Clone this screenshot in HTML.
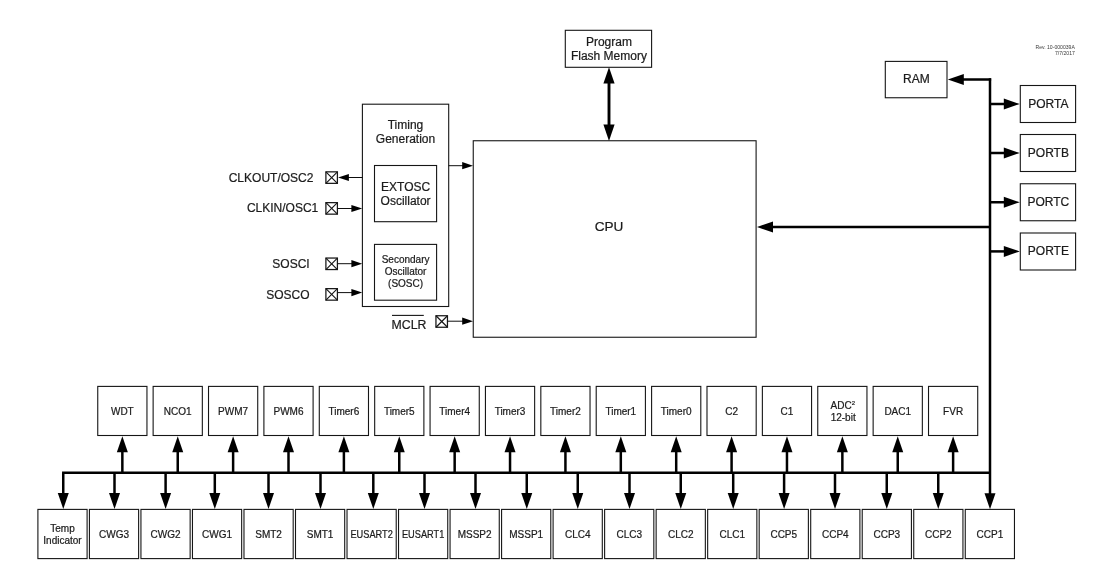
<!DOCTYPE html>
<html lang="en">
<head>
<meta charset="utf-8">
<title>Block Diagram</title>
<style>
html,body{margin:0;padding:0;background:#fff;}
body{width:1101px;height:581px;overflow:hidden;}
svg{display:block;will-change:transform;}
svg text{font-family:"Liberation Sans",Arial,Helvetica,sans-serif;fill:#1c1c1c;stroke:#1c1c1c;stroke-width:0.22px;}
</style>
</head>
<body>
<svg width="1101" height="581" viewBox="0 0 1101 581">
<rect x="0" y="0" width="1101" height="581" fill="#ffffff"/>
<rect x="565.30" y="30.30" width="86.30" height="37.00" fill="none" stroke="#161616" stroke-width="1.1"/>
<text x="608.90" y="45.50" font-size="12" text-anchor="middle">Program</text>
<text x="608.90" y="59.50" font-size="12" text-anchor="middle">Flash Memory</text>
<line x1="609.00" y1="80.00" x2="609.00" y2="128.00" stroke="#000" stroke-width="2.9"/>
<polygon points="609.00,67.20 603.40,83.50 614.60,83.50" fill="#000"/>
<polygon points="609.00,140.90 603.40,124.60 614.60,124.60" fill="#000"/>
<rect x="473.25" y="140.75" width="282.85" height="196.50" fill="none" stroke="#161616" stroke-width="1.1"/>
<text x="609.10" y="231.20" font-size="13.6" text-anchor="middle">CPU</text>
<rect x="362.40" y="104.20" width="86.30" height="202.30" fill="none" stroke="#161616" stroke-width="1.1"/>
<text x="405.50" y="129.20" font-size="12" text-anchor="middle">Timing</text>
<text x="405.50" y="143.00" font-size="12" text-anchor="middle">Generation</text>
<rect x="374.50" y="165.50" width="62.10" height="56.20" fill="none" stroke="#161616" stroke-width="1.1"/>
<text x="405.60" y="190.60" font-size="12" text-anchor="middle">EXTOSC</text>
<text x="405.60" y="204.50" font-size="12" text-anchor="middle">Oscillator</text>
<rect x="374.50" y="244.40" width="62.10" height="55.80" fill="none" stroke="#161616" stroke-width="1.1"/>
<text x="405.60" y="262.70" font-size="10" text-anchor="middle">Secondary</text>
<text x="405.60" y="274.60" font-size="10" text-anchor="middle">Oscillator</text>
<text x="405.60" y="286.50" font-size="10" text-anchor="middle">(SOSC)</text>
<line x1="448.70" y1="165.70" x2="464.00" y2="165.70" stroke="#000" stroke-width="0.95"/>
<polygon points="473.00,165.70 462.20,162.10 462.20,169.30" fill="#000"/>
<rect x="325.90" y="171.85" width="11.50" height="11.50" fill="none" stroke="#161616" stroke-width="1.25"/>
<line x1="325.90" y1="171.85" x2="337.40" y2="183.35" stroke="#161616" stroke-width="1.15"/>
<line x1="325.90" y1="183.35" x2="337.40" y2="171.85" stroke="#161616" stroke-width="1.15"/>
<text x="313.40" y="181.90" font-size="12" text-anchor="end">CLKOUT/OSC2</text>
<line x1="347.00" y1="177.50" x2="362.40" y2="177.50" stroke="#000" stroke-width="0.95"/>
<polygon points="338.10,177.50 348.90,173.90 348.90,181.10" fill="#000"/>
<rect x="325.90" y="202.65" width="11.50" height="11.50" fill="none" stroke="#161616" stroke-width="1.25"/>
<line x1="325.90" y1="202.65" x2="337.40" y2="214.15" stroke="#161616" stroke-width="1.15"/>
<line x1="325.90" y1="214.15" x2="337.40" y2="202.65" stroke="#161616" stroke-width="1.15"/>
<text x="318.30" y="212.30" font-size="12" text-anchor="end">CLKIN/OSC1</text>
<line x1="337.80" y1="208.50" x2="353.00" y2="208.50" stroke="#000" stroke-width="0.95"/>
<polygon points="362.20,208.50 351.40,204.90 351.40,212.10" fill="#000"/>
<rect x="325.90" y="258.05" width="11.50" height="11.50" fill="none" stroke="#161616" stroke-width="1.25"/>
<line x1="325.90" y1="258.05" x2="337.40" y2="269.55" stroke="#161616" stroke-width="1.15"/>
<line x1="325.90" y1="269.55" x2="337.40" y2="258.05" stroke="#161616" stroke-width="1.15"/>
<text x="309.70" y="267.90" font-size="12" text-anchor="end">SOSCI</text>
<line x1="337.80" y1="263.70" x2="353.00" y2="263.70" stroke="#000" stroke-width="0.95"/>
<polygon points="362.20,263.70 351.40,260.10 351.40,267.30" fill="#000"/>
<rect x="325.90" y="288.65" width="11.50" height="11.50" fill="none" stroke="#161616" stroke-width="1.25"/>
<line x1="325.90" y1="288.65" x2="337.40" y2="300.15" stroke="#161616" stroke-width="1.15"/>
<line x1="325.90" y1="300.15" x2="337.40" y2="288.65" stroke="#161616" stroke-width="1.15"/>
<text x="309.60" y="298.60" font-size="12" text-anchor="end">SOSCO</text>
<line x1="337.80" y1="292.60" x2="353.00" y2="292.60" stroke="#000" stroke-width="0.95"/>
<polygon points="362.20,292.60 351.40,289.00 351.40,296.20" fill="#000"/>
<rect x="435.95" y="315.75" width="11.50" height="11.50" fill="none" stroke="#161616" stroke-width="1.25"/>
<line x1="435.95" y1="315.75" x2="447.45" y2="327.25" stroke="#161616" stroke-width="1.15"/>
<line x1="435.95" y1="327.25" x2="447.45" y2="315.75" stroke="#161616" stroke-width="1.15"/>
<text x="409.00" y="328.80" font-size="12.3" text-anchor="middle">MCLR</text>
<line x1="392.00" y1="315.40" x2="423.80" y2="315.40" stroke="#161616" stroke-width="1.1"/>
<line x1="447.90" y1="321.20" x2="464.00" y2="321.20" stroke="#000" stroke-width="0.95"/>
<polygon points="473.00,321.20 462.20,317.60 462.20,324.80" fill="#000"/>
<rect x="885.30" y="61.40" width="61.70" height="36.35" fill="none" stroke="#161616" stroke-width="1.1"/>
<text x="916.40" y="83.20" font-size="12" text-anchor="middle">RAM</text>
<line x1="990.00" y1="78.35" x2="990.00" y2="496.00" stroke="#000" stroke-width="2.5"/>
<line x1="962.00" y1="79.50" x2="991.15" y2="79.50" stroke="#000" stroke-width="2.5"/>
<polygon points="947.80,79.50 963.80,74.00 963.80,85.00" fill="#000"/>
<rect x="1020.30" y="85.50" width="55.30" height="37.00" fill="none" stroke="#161616" stroke-width="1.1"/>
<text x="1048.40" y="107.70" font-size="12" text-anchor="middle">PORTA</text>
<line x1="990.00" y1="104.00" x2="1006.00" y2="104.00" stroke="#000" stroke-width="2.5"/>
<polygon points="1019.80,104.00 1003.80,98.50 1003.80,109.50" fill="#000"/>
<rect x="1020.30" y="134.50" width="55.30" height="37.00" fill="none" stroke="#161616" stroke-width="1.1"/>
<text x="1048.40" y="156.70" font-size="12" text-anchor="middle">PORTB</text>
<line x1="990.00" y1="153.00" x2="1006.00" y2="153.00" stroke="#000" stroke-width="2.5"/>
<polygon points="1019.80,153.00 1003.80,147.50 1003.80,158.50" fill="#000"/>
<rect x="1020.30" y="183.75" width="55.30" height="37.00" fill="none" stroke="#161616" stroke-width="1.1"/>
<text x="1048.40" y="205.95" font-size="12" text-anchor="middle">PORTC</text>
<line x1="990.00" y1="202.25" x2="1006.00" y2="202.25" stroke="#000" stroke-width="2.5"/>
<polygon points="1019.80,202.25 1003.80,196.75 1003.80,207.75" fill="#000"/>
<rect x="1020.30" y="233.00" width="55.30" height="37.00" fill="none" stroke="#161616" stroke-width="1.1"/>
<text x="1048.40" y="255.20" font-size="12" text-anchor="middle">PORTE</text>
<line x1="990.00" y1="251.40" x2="1006.00" y2="251.40" stroke="#000" stroke-width="2.5"/>
<polygon points="1019.80,251.40 1003.80,245.90 1003.80,256.90" fill="#000"/>
<line x1="771.00" y1="227.00" x2="990.00" y2="227.00" stroke="#000" stroke-width="2.5"/>
<polygon points="757.00,227.00 773.00,221.50 773.00,232.50" fill="#000"/>
<polygon points="990.00,509.30 984.50,493.30 995.50,493.30" fill="#000"/>
<text x="1074.8" y="48.6" font-size="5.1" text-anchor="end" style="fill:#3a3a3a;stroke:none">Rev. 10-000039A</text>
<text x="1074.8" y="54.6" font-size="5.1" text-anchor="end" style="fill:#3a3a3a;stroke:none">7/7/2017</text>
<line x1="62.05" y1="472.80" x2="990.00" y2="472.80" stroke="#000" stroke-width="2.5"/>
<rect x="97.75" y="386.40" width="49.20" height="49.10" fill="none" stroke="#161616" stroke-width="1.1"/>
<text x="122.35" y="414.70" font-size="10" text-anchor="middle">WDT</text>
<line x1="122.35" y1="450.00" x2="122.35" y2="473.00" stroke="#000" stroke-width="2.5"/>
<polygon points="122.35,436.30 116.85,452.30 127.85,452.30" fill="#000"/>
<rect x="153.13" y="386.40" width="49.20" height="49.10" fill="none" stroke="#161616" stroke-width="1.1"/>
<text x="177.73" y="414.70" font-size="10" text-anchor="middle">NCO1</text>
<line x1="177.73" y1="450.00" x2="177.73" y2="473.00" stroke="#000" stroke-width="2.5"/>
<polygon points="177.73,436.30 172.23,452.30 183.23,452.30" fill="#000"/>
<rect x="208.52" y="386.40" width="49.20" height="49.10" fill="none" stroke="#161616" stroke-width="1.1"/>
<text x="233.12" y="414.70" font-size="10" text-anchor="middle">PWM7</text>
<line x1="233.12" y1="450.00" x2="233.12" y2="473.00" stroke="#000" stroke-width="2.5"/>
<polygon points="233.12,436.30 227.62,452.30 238.62,452.30" fill="#000"/>
<rect x="263.90" y="386.40" width="49.20" height="49.10" fill="none" stroke="#161616" stroke-width="1.1"/>
<text x="288.50" y="414.70" font-size="10" text-anchor="middle">PWM6</text>
<line x1="288.50" y1="450.00" x2="288.50" y2="473.00" stroke="#000" stroke-width="2.5"/>
<polygon points="288.50,436.30 283.00,452.30 294.00,452.30" fill="#000"/>
<rect x="319.29" y="386.40" width="49.20" height="49.10" fill="none" stroke="#161616" stroke-width="1.1"/>
<text x="343.89" y="414.70" font-size="10" text-anchor="middle">Timer6</text>
<line x1="343.89" y1="450.00" x2="343.89" y2="473.00" stroke="#000" stroke-width="2.5"/>
<polygon points="343.89,436.30 338.39,452.30 349.39,452.30" fill="#000"/>
<rect x="374.68" y="386.40" width="49.20" height="49.10" fill="none" stroke="#161616" stroke-width="1.1"/>
<text x="399.27" y="414.70" font-size="10" text-anchor="middle">Timer5</text>
<line x1="399.27" y1="450.00" x2="399.27" y2="473.00" stroke="#000" stroke-width="2.5"/>
<polygon points="399.27,436.30 393.77,452.30 404.77,452.30" fill="#000"/>
<rect x="430.06" y="386.40" width="49.20" height="49.10" fill="none" stroke="#161616" stroke-width="1.1"/>
<text x="454.66" y="414.70" font-size="10" text-anchor="middle">Timer4</text>
<line x1="454.66" y1="450.00" x2="454.66" y2="473.00" stroke="#000" stroke-width="2.5"/>
<polygon points="454.66,436.30 449.16,452.30 460.16,452.30" fill="#000"/>
<rect x="485.44" y="386.40" width="49.20" height="49.10" fill="none" stroke="#161616" stroke-width="1.1"/>
<text x="510.04" y="414.70" font-size="10" text-anchor="middle">Timer3</text>
<line x1="510.04" y1="450.00" x2="510.04" y2="473.00" stroke="#000" stroke-width="2.5"/>
<polygon points="510.04,436.30 504.54,452.30 515.54,452.30" fill="#000"/>
<rect x="540.83" y="386.40" width="49.20" height="49.10" fill="none" stroke="#161616" stroke-width="1.1"/>
<text x="565.43" y="414.70" font-size="10" text-anchor="middle">Timer2</text>
<line x1="565.43" y1="450.00" x2="565.43" y2="473.00" stroke="#000" stroke-width="2.5"/>
<polygon points="565.43,436.30 559.93,452.30 570.93,452.30" fill="#000"/>
<rect x="596.21" y="386.40" width="49.20" height="49.10" fill="none" stroke="#161616" stroke-width="1.1"/>
<text x="620.81" y="414.70" font-size="10" text-anchor="middle">Timer1</text>
<line x1="620.81" y1="450.00" x2="620.81" y2="473.00" stroke="#000" stroke-width="2.5"/>
<polygon points="620.81,436.30 615.31,452.30 626.31,452.30" fill="#000"/>
<rect x="651.60" y="386.40" width="49.20" height="49.10" fill="none" stroke="#161616" stroke-width="1.1"/>
<text x="676.20" y="414.70" font-size="10" text-anchor="middle">Timer0</text>
<line x1="676.20" y1="450.00" x2="676.20" y2="473.00" stroke="#000" stroke-width="2.5"/>
<polygon points="676.20,436.30 670.70,452.30 681.70,452.30" fill="#000"/>
<rect x="706.99" y="386.40" width="49.20" height="49.10" fill="none" stroke="#161616" stroke-width="1.1"/>
<text x="731.59" y="414.70" font-size="10" text-anchor="middle">C2</text>
<line x1="731.59" y1="450.00" x2="731.59" y2="473.00" stroke="#000" stroke-width="2.5"/>
<polygon points="731.59,436.30 726.09,452.30 737.09,452.30" fill="#000"/>
<rect x="762.37" y="386.40" width="49.20" height="49.10" fill="none" stroke="#161616" stroke-width="1.1"/>
<text x="786.97" y="414.70" font-size="10" text-anchor="middle">C1</text>
<line x1="786.97" y1="450.00" x2="786.97" y2="473.00" stroke="#000" stroke-width="2.5"/>
<polygon points="786.97,436.30 781.47,452.30 792.47,452.30" fill="#000"/>
<rect x="817.75" y="386.40" width="49.20" height="49.10" fill="none" stroke="#161616" stroke-width="1.1"/>
<text x="842.75" y="408.8" font-size="10" text-anchor="middle">ADC<tspan font-size="6" dy="-4.2">2</tspan></text>
<text x="843.15" y="420.50" font-size="10" text-anchor="middle">12-bit</text>
<line x1="842.36" y1="450.00" x2="842.36" y2="473.00" stroke="#000" stroke-width="2.5"/>
<polygon points="842.36,436.30 836.86,452.30 847.86,452.30" fill="#000"/>
<rect x="873.14" y="386.40" width="49.20" height="49.10" fill="none" stroke="#161616" stroke-width="1.1"/>
<text x="897.74" y="414.70" font-size="10" text-anchor="middle">DAC1</text>
<line x1="897.74" y1="450.00" x2="897.74" y2="473.00" stroke="#000" stroke-width="2.5"/>
<polygon points="897.74,436.30 892.24,452.30 903.24,452.30" fill="#000"/>
<rect x="928.52" y="386.40" width="49.20" height="49.10" fill="none" stroke="#161616" stroke-width="1.1"/>
<text x="953.12" y="414.70" font-size="10" text-anchor="middle">FVR</text>
<line x1="953.12" y1="450.00" x2="953.12" y2="473.00" stroke="#000" stroke-width="2.5"/>
<polygon points="953.12,436.30 947.62,452.30 958.62,452.30" fill="#000"/>
<rect x="37.90" y="509.40" width="49.20" height="49.20" fill="none" stroke="#161616" stroke-width="1.1"/>
<text x="62.50" y="531.70" font-size="10" text-anchor="middle">Temp</text>
<text x="62.50" y="543.50" font-size="10" text-anchor="middle">Indicator</text>
<line x1="63.25" y1="473.00" x2="63.25" y2="496.00" stroke="#000" stroke-width="2.5"/>
<polygon points="63.25,509.00 57.75,493.00 68.75,493.00" fill="#000"/>
<rect x="89.42" y="509.40" width="49.20" height="49.20" fill="none" stroke="#161616" stroke-width="1.1"/>
<text x="114.02" y="538.00" font-size="10" text-anchor="middle">CWG3</text>
<line x1="114.50" y1="473.00" x2="114.50" y2="496.00" stroke="#000" stroke-width="2.5"/>
<polygon points="114.50,509.00 109.00,493.00 120.00,493.00" fill="#000"/>
<rect x="140.94" y="509.40" width="49.20" height="49.20" fill="none" stroke="#161616" stroke-width="1.1"/>
<text x="165.54" y="538.00" font-size="10" text-anchor="middle">CWG2</text>
<line x1="165.60" y1="473.00" x2="165.60" y2="496.00" stroke="#000" stroke-width="2.5"/>
<polygon points="165.60,509.00 160.10,493.00 171.10,493.00" fill="#000"/>
<rect x="192.46" y="509.40" width="49.20" height="49.20" fill="none" stroke="#161616" stroke-width="1.1"/>
<text x="217.06" y="538.00" font-size="10" text-anchor="middle">CWG1</text>
<line x1="214.80" y1="473.00" x2="214.80" y2="496.00" stroke="#000" stroke-width="2.5"/>
<polygon points="214.80,509.00 209.30,493.00 220.30,493.00" fill="#000"/>
<rect x="243.98" y="509.40" width="49.20" height="49.20" fill="none" stroke="#161616" stroke-width="1.1"/>
<text x="268.58" y="538.00" font-size="10" text-anchor="middle">SMT2</text>
<line x1="268.50" y1="473.00" x2="268.50" y2="496.00" stroke="#000" stroke-width="2.5"/>
<polygon points="268.50,509.00 263.00,493.00 274.00,493.00" fill="#000"/>
<rect x="295.50" y="509.40" width="49.20" height="49.20" fill="none" stroke="#161616" stroke-width="1.1"/>
<text x="320.10" y="538.00" font-size="10" text-anchor="middle">SMT1</text>
<line x1="320.50" y1="473.00" x2="320.50" y2="496.00" stroke="#000" stroke-width="2.5"/>
<polygon points="320.50,509.00 315.00,493.00 326.00,493.00" fill="#000"/>
<rect x="347.02" y="509.40" width="49.20" height="49.20" fill="none" stroke="#161616" stroke-width="1.1"/>
<text x="371.62" y="538.0" font-size="10" text-anchor="middle" textLength="42.3" lengthAdjust="spacingAndGlyphs">EUSART2</text>
<line x1="373.30" y1="473.00" x2="373.30" y2="496.00" stroke="#000" stroke-width="2.5"/>
<polygon points="373.30,509.00 367.80,493.00 378.80,493.00" fill="#000"/>
<rect x="398.54" y="509.40" width="49.20" height="49.20" fill="none" stroke="#161616" stroke-width="1.1"/>
<text x="423.14" y="538.0" font-size="10" text-anchor="middle" textLength="42.3" lengthAdjust="spacingAndGlyphs">EUSART1</text>
<line x1="424.50" y1="473.00" x2="424.50" y2="496.00" stroke="#000" stroke-width="2.5"/>
<polygon points="424.50,509.00 419.00,493.00 430.00,493.00" fill="#000"/>
<rect x="450.06" y="509.40" width="49.20" height="49.20" fill="none" stroke="#161616" stroke-width="1.1"/>
<text x="474.66" y="538.00" font-size="10" text-anchor="middle">MSSP2</text>
<line x1="475.50" y1="473.00" x2="475.50" y2="496.00" stroke="#000" stroke-width="2.5"/>
<polygon points="475.50,509.00 470.00,493.00 481.00,493.00" fill="#000"/>
<rect x="501.58" y="509.40" width="49.20" height="49.20" fill="none" stroke="#161616" stroke-width="1.1"/>
<text x="526.18" y="538.00" font-size="10" text-anchor="middle">MSSP1</text>
<line x1="526.75" y1="473.00" x2="526.75" y2="496.00" stroke="#000" stroke-width="2.5"/>
<polygon points="526.75,509.00 521.25,493.00 532.25,493.00" fill="#000"/>
<rect x="553.10" y="509.40" width="49.20" height="49.20" fill="none" stroke="#161616" stroke-width="1.1"/>
<text x="577.70" y="538.00" font-size="10" text-anchor="middle">CLC4</text>
<line x1="577.75" y1="473.00" x2="577.75" y2="496.00" stroke="#000" stroke-width="2.5"/>
<polygon points="577.75,509.00 572.25,493.00 583.25,493.00" fill="#000"/>
<rect x="604.62" y="509.40" width="49.20" height="49.20" fill="none" stroke="#161616" stroke-width="1.1"/>
<text x="629.22" y="538.00" font-size="10" text-anchor="middle">CLC3</text>
<line x1="629.50" y1="473.00" x2="629.50" y2="496.00" stroke="#000" stroke-width="2.5"/>
<polygon points="629.50,509.00 624.00,493.00 635.00,493.00" fill="#000"/>
<rect x="656.14" y="509.40" width="49.20" height="49.20" fill="none" stroke="#161616" stroke-width="1.1"/>
<text x="680.74" y="538.00" font-size="10" text-anchor="middle">CLC2</text>
<line x1="680.75" y1="473.00" x2="680.75" y2="496.00" stroke="#000" stroke-width="2.5"/>
<polygon points="680.75,509.00 675.25,493.00 686.25,493.00" fill="#000"/>
<rect x="707.66" y="509.40" width="49.20" height="49.20" fill="none" stroke="#161616" stroke-width="1.1"/>
<text x="732.26" y="538.00" font-size="10" text-anchor="middle">CLC1</text>
<line x1="733.20" y1="473.00" x2="733.20" y2="496.00" stroke="#000" stroke-width="2.5"/>
<polygon points="733.20,509.00 727.70,493.00 738.70,493.00" fill="#000"/>
<rect x="759.18" y="509.40" width="49.20" height="49.20" fill="none" stroke="#161616" stroke-width="1.1"/>
<text x="783.78" y="538.00" font-size="10" text-anchor="middle">CCP5</text>
<line x1="784.10" y1="473.00" x2="784.10" y2="496.00" stroke="#000" stroke-width="2.5"/>
<polygon points="784.10,509.00 778.60,493.00 789.60,493.00" fill="#000"/>
<rect x="810.70" y="509.40" width="49.20" height="49.20" fill="none" stroke="#161616" stroke-width="1.1"/>
<text x="835.30" y="538.00" font-size="10" text-anchor="middle">CCP4</text>
<line x1="835.00" y1="473.00" x2="835.00" y2="496.00" stroke="#000" stroke-width="2.5"/>
<polygon points="835.00,509.00 829.50,493.00 840.50,493.00" fill="#000"/>
<rect x="862.22" y="509.40" width="49.20" height="49.20" fill="none" stroke="#161616" stroke-width="1.1"/>
<text x="886.82" y="538.00" font-size="10" text-anchor="middle">CCP3</text>
<line x1="886.75" y1="473.00" x2="886.75" y2="496.00" stroke="#000" stroke-width="2.5"/>
<polygon points="886.75,509.00 881.25,493.00 892.25,493.00" fill="#000"/>
<rect x="913.74" y="509.40" width="49.20" height="49.20" fill="none" stroke="#161616" stroke-width="1.1"/>
<text x="938.34" y="538.00" font-size="10" text-anchor="middle">CCP2</text>
<line x1="938.25" y1="473.00" x2="938.25" y2="496.00" stroke="#000" stroke-width="2.5"/>
<polygon points="938.25,509.00 932.75,493.00 943.75,493.00" fill="#000"/>
<rect x="965.26" y="509.40" width="49.20" height="49.20" fill="none" stroke="#161616" stroke-width="1.1"/>
<text x="989.86" y="538.00" font-size="10" text-anchor="middle">CCP1</text>
</svg>
</body>
</html>
